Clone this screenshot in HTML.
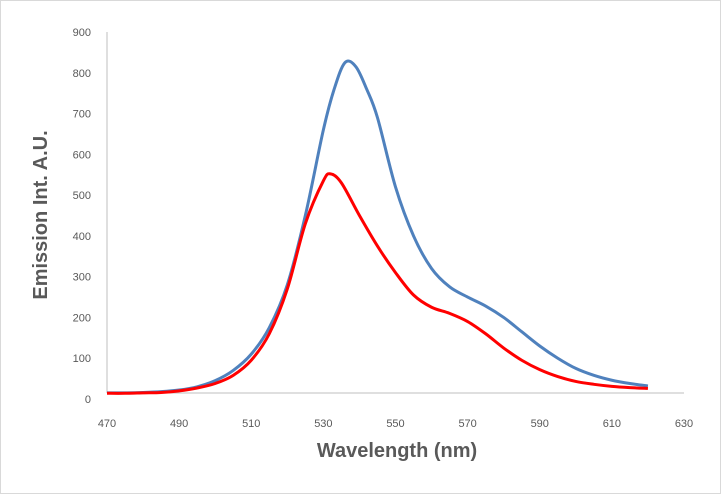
<!DOCTYPE html>
<html><head><meta charset="utf-8"><style>
html,body{margin:0;padding:0;background:#fff}
svg{display:block;font-family:"Liberation Sans",sans-serif}
</style></head><body>
<svg width="721" height="494" id="chart">
<rect x="0.5" y="0.5" width="720" height="493" fill="#fff" stroke="#d9d9d9"/>
<g id="axes"></g>
<g id="series"></g>
<text x="397" y="457" text-anchor="middle" font-size="20" font-weight="bold" fill="#595959">Wavelength (nm)</text>
<text transform="translate(47,215) rotate(-90)" text-anchor="middle" font-size="20" font-weight="bold" fill="#595959">Emission Int. A.U.</text>
</svg>
<script>
const xTicks=[470,490,510,530,550,570,590,610,630];
const yTicks=[0,100,200,300,400,500,600,700,800,900];
const blueX=[470,475,480,485,490,495,500,505,510,515,520,525,530,533,536,539,542,545,550,555,560,565,570,575,580,585,590,595,600,605,610,615,620];
const blueY=[15,15,16,18,22,30,45,70,110,175,280,450,660,760,825,815,760,690,520,400,320,275,250,228,200,165,130,100,75,58,46,38,32];
const redX=[470,475,480,485,490,495,500,505,510,515,520,525,530,532,535,540,545,550,555,560,565,570,575,580,585,590,595,600,605,610,615,620];
const redY=[14,14,15,16,20,27,38,58,95,160,270,430,535,552,530,450,375,310,255,225,210,190,160,125,95,72,55,43,36,31,28,26];
const NS='http://www.w3.org/2000/svg';
const sx=v=>107+(v-470)*(577/160);
const sy=v=>399-v*0.4078;
const axes=document.getElementById('axes'), ser=document.getElementById('series');
function mk(t,a,p){const e=document.createElementNS(NS,t);for(const k in a)e.setAttribute(k,a[k]);p.appendChild(e);return e;}
let l=mk('line',{x1:107,y1:32,x2:107,y2:393,stroke:'#bfbfbf','stroke-width':1},axes);


l=mk('line',{x1:107,y1:393,x2:684,y2:393,stroke:'#bfbfbf','stroke-width':1},axes);


xTicks.forEach(v=>{const t=mk('text',{x:sx(v),y:427,'text-anchor':'middle','font-size':11,fill:'#595959'},axes);t.textContent=v;

});
yTicks.forEach(v=>{const t=mk('text',{x:91,y:sy(v)+4,'text-anchor':'end','font-size':11,fill:'#595959'},axes);t.textContent=v;

});
function path(xs,ys){const p=xs.map((x,i)=>[sx(x),sy(ys[i])]);let d='M'+p[0][0]+','+p[0][1];
for(let i=0;i<p.length-1;i++){const p0=p[Math.max(0,i-1)],p1=p[i],p2=p[i+1],p3=p[Math.min(p.length-1,i+2)];
const c1=[p1[0]+(p2[0]-p0[0])/6,p1[1]+(p2[1]-p0[1])/6],c2=[p2[0]-(p3[0]-p1[0])/6,p2[1]-(p3[1]-p1[1])/6];
d+=' C'+c1+' '+c2+' '+p2;}return d;}
let s=mk('path',{d:path(blueX,blueY),fill:'none',stroke:'#4f81bd','stroke-width':3,'stroke-linejoin':'round'},ser);


s=mk('path',{d:path(redX,redY),fill:'none',stroke:'#ff0000','stroke-width':3,'stroke-linejoin':'round'},ser);


</script>
</body></html>
